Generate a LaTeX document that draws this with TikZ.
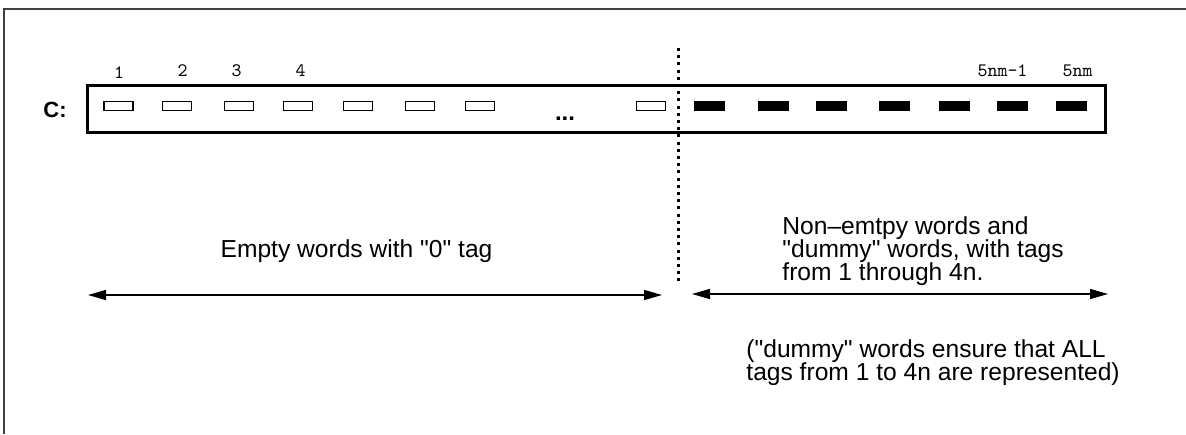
\documentclass[tikz,border=0pt]{standalone}
\usepackage{fontspec}
\usetikzlibrary{arrows.meta}
\newfontfamily\figsans{Liberation Sans}
\newcommand\notefont{\figsans\fontsize{12.3}{11.5}\selectfont\lineskiplimit=-5pt\relax}

\begin{document}
\begin{tikzpicture}[x=0.5pt, y=-0.5pt,
	slot/.style={inner sep=0pt, minimum width=14.5pt, minimum height=4.3pt},
	emptyslot/.style={slot, draw, line width=0.6pt},
	fullslot/.style={slot, fill=black, minimum width=15.5pt, minimum height=5pt},
	tag/.style={font=\ttfamily\fontsize{9.5}{10}\selectfont, anchor=base, inner sep=0pt},
	note/.style={font=\notefont, inner sep=0pt, align=left},
	wordspan/.style={line width=0.75pt, {Triangle[length=9pt,width=5pt]}-{Triangle[length=9pt,width=5pt]}}]

	\useasboundingbox (0,0) rectangle (1186,434);

	% frame (cut off at the right and bottom)
	\draw[black!75, line width=1pt] (4,434) -- (4,9) -- (1186,9);

	\coordinate (boxNW) at (87,85);
	\coordinate (boxSE) at (1105,132);
	\draw[line width=1.5pt] (boxNW) rectangle (boxSE);
	\node[font=\figsans\bfseries\fontsize{11}{11}\selectfont, inner sep=0pt] (cname) at (55,110) {C:};

	% words with tag 0
	\node[emptyslot] (e1) at (118.5,106) {};
	\node[emptyslot] (e2) at (177,106) {};
	\node[emptyslot] (e3) at (239,106) {};
	\node[emptyslot] (e4) at (298,106) {};
	\node[emptyslot] (e5) at (358,106) {};
	\node[emptyslot] (e6) at (420,106) {};
	\node[emptyslot] (e7) at (480,106) {};
	\node[font=\figsans\bfseries\fontsize{12}{12}\selectfont, anchor=base, inner sep=0pt] (dots) at (565,120) {...};
	\node[emptyslot] (elast) at (651,106) {};

	% tagged words
	\node[fullslot] (f1) at (709,106) {};
	\node[fullslot] (f2) at (773,106) {};
	\node[fullslot] (f3) at (831,106) {};
	\node[fullslot] (f4) at (894,106) {};
	\node[fullslot] (f5) at (954,106) {};
	\node[fullslot] (f6) at (1012,106) {};
	\node[fullslot] (f7) at (1071,106) {};

	\node[tag] (t1) at (119,78) {1};
	\node[tag] (t2) at (182.5,76) {2};
	\node[tag] (t3) at (236.5,76) {3};
	\node[tag] (t4) at (300.5,76) {4};
	\node[tag] (tm) at (1002.5,76) {5nm-1};
	\node[tag] (tn) at (1077.5,76) {5nm};

	% split between the two parts
	\coordinate (splitTop) at (678,48);
	\coordinate (splitBot) at (678,285);
	\draw[line width=1.5pt, dash pattern=on 1.5pt off 2.1pt] (splitTop) -- (splitBot);

	\coordinate (zeroL) at (88,295);
	\coordinate (zeroR) at (662,295);
	\draw[wordspan] (zeroL) -- (zeroR);
	\node[note, anchor=base] (zerotxt) at (356.5,257) {Empty words with "0" tag};

	\coordinate (tagL) at (692,294);
	\coordinate (tagR) at (1108,294);
	\draw[wordspan] (tagL) -- (tagR);
	\node[note, anchor=north west] (tagtxt) at (782,216) {Non–emtpy words and\\"dummy" words, with tags\\from 1 through 4n.};

	\node[note, anchor=north west] (dummytxt) at (746,339) {("dummy" words ensure that ALL\\tags from 1 to 4n are represented)};
\end{tikzpicture}
\end{document}
